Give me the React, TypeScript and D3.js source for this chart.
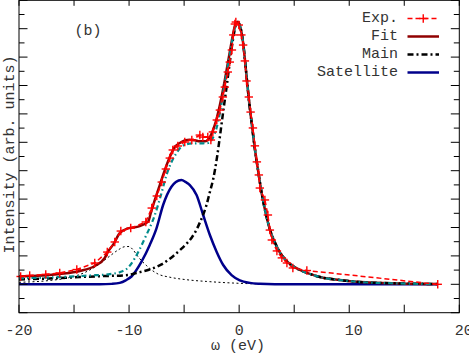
import React from 'react';
import * as d3 from 'd3';

const W = 469;
const H = 353;

// axis setup
const xDomain: [number, number] = [-20, 20];
const yDomain: [number, number] = [-2, 20];
const xTickValues = [-20, -15, -10, -5, 0, 5, 10, 15, 20];
const xTickLabels = [-20, -10, 0, 10, 20];
const yTickValues = [-2, -1, 0, 1, 2, 3, 4, 5, 6, 7, 8, 9, 10, 11, 12, 13, 14, 15, 16, 17, 18, 19, 20];

// experimental points (omega in eV, intensity arb. units)
const expData: [number, number][] = [
  [-19.85, 0.55], [-19.03, 0.62], [-17.57, 0.7], [-16.3, 0.8], [-14.75, 1.04], [-13.12, 1.5],
  [-11.98, 2.27], [-11.3, 2.98], [-10.75, 3.75], [-9.85, 3.96], [-8.48, 4.39], [-7.94, 5.37],
  [-7.48, 6.22], [-7.03, 7.2], [-6.66, 8.12], [-6.3, 8.89], [-6.03, 9.46], [-5.57, 9.74],
  [-4.94, 10.02], [-4.3, 10.16], [-3.57, 10.51], [-3.3, 10.37], [-2.85, 10.37], [-2.57, 10.16],
  [-2.39, 10.73], [-2.03, 11.57], [-1.75, 12.27], [-1.48, 13.19], [-1.3, 13.89], [-1.03, 14.95],
  [-0.85, 15.65], [-0.66, 16.5], [-0.53, 17.56], [-0.39, 18.33], [-0.3, 18.47], [-0.03, 18.26],
  [0.2, 17.56], [0.36, 16.85], [0.52, 15.73], [0.67, 14.32], [0.88, 13.19], [1.04, 12.13],
  [1.25, 11.01], [1.43, 9.75], [1.61, 8.62], [1.79, 7.7], [1.88, 6.78], [2.34, 5.94],
  [2.61, 4.88], [2.79, 3.82], [2.97, 3.12], [3.43, 2.35], [3.88, 1.86], [4.34, 1.5],
  [4.88, 1.15], [6.15, 0.97], [18.04, 0.0],
];

// right flank shared by Fit, Main and Main+Satellite (they coincide there)
const peakRightTail: [number, number][] = [
  [-0.12, 18.47], [0.06, 18.23], [0.34, 17.13], [0.61, 15.15], [0.88, 13.04], [1.15, 11.28],
  [1.43, 9.53], [1.7, 8.12], [2.06, 6.36], [2.43, 4.95], [2.79, 3.86], [3.25, 2.94],
  [3.7, 2.24], [4.15, 1.78], [4.61, 1.43], [5.52, 1.01], [6.43, 0.73], [7.34, 0.51],
  [9.15, 0.3], [10.97, 0.16], [14.61, 0.06], [18.07, 0.02],
];

const fitLeft: [number, number][] = [
  [-20.0, 0.55], [-16.3, 0.73], [-14.48, 0.94], [-13.12, 1.29], [-12.21, 1.85], [-11.91, 2.3],
  [-11.4, 2.85], [-10.85, 3.6], [-10.09, 3.94], [-9.18, 4.06], [-8.27, 4.41], [-8.0, 5.1],
  [-7.66, 5.94], [-7.21, 6.99], [-6.75, 8.05], [-6.3, 8.96], [-5.85, 9.67], [-5.39, 9.95],
  [-4.94, 10.13], [-4.48, 10.18], [-4.03, 10.14], [-3.57, 10.07], [-3.12, 10.07], [-2.66, 10.37],
  [-2.21, 11.22], [-1.75, 12.63], [-1.3, 14.39], [-0.85, 16.36], [-0.57, 17.56], [-0.3, 18.4],
];

const mainLeft: [number, number][] = [
  [-20.0, 0.34], [-17.21, 0.41], [-14.48, 0.51], [-12.66, 0.57], [-10.12, 0.65], [-9.33, 0.8],
  [-8.27, 1.01], [-7.05, 1.4], [-6.0, 1.98], [-5.39, 2.4], [-4.85, 2.8], [-4.3, 3.3],
  [-3.87, 3.85], [-3.57, 4.35], [-3.27, 4.9], [-3.0, 5.5], [-2.66, 6.5], [-2.36, 7.4],
  [-2.0, 9.0], [-1.75, 10.4], [-1.39, 12.5], [-1.12, 14.03], [-0.85, 15.65], [-0.57, 17.2],
  [-0.3, 18.26],
];

const mainPlusSatLeft: [number, number][] = [
  [-20.0, 0.42], [-16.3, 0.51], [-13.57, 0.62], [-11.75, 0.72], [-10.85, 0.85], [-10.12, 1.15],
  [-9.48, 1.83], [-8.57, 3.24], [-7.66, 4.88], [-7.1, 6.3], [-6.6, 7.7], [-5.69, 9.25],
  [-5.09, 9.77], [-4.18, 9.93], [-3.27, 9.93], [-2.82, 9.95], [-2.51, 10.16], [-2.05, 11.01],
  [-1.75, 12.06], [-1.3, 14.18], [-0.85, 16.15], [-0.48, 17.77], [-0.21, 18.44],
];

const satelliteData: [number, number][] = [
  [-20.0, 0], [-12.66, 0], [-11.57, 0.03], [-10.85, 0.1], [-10.3, 0.28], [-9.78, 0.55],
  [-8.87, 1.59], [-8.12, 2.77], [-7.51, 3.94], [-6.9, 5.6], [-6.15, 6.87], [-5.75, 7.2],
  [-5.24, 7.35], [-4.85, 7.2], [-4.48, 6.99], [-3.87, 6.29], [-3.27, 4.88], [-2.66, 3.47],
  [-2.05, 2.3], [-1.45, 1.36], [-0.69, 0.65], [0.06, 0.28], [0.97, 0.1], [1.88, 0.04],
  [3.25, 0.01], [18.07, 0],
];

const secondSatData: [number, number][] = [
  [-20.0, 0.14], [-17.21, 0.27], [-15.39, 0.48], [-14.03, 0.83], [-12.82, 1.36], [-11.75, 1.99],
  [-11.03, 2.4], [-10.39, 2.65], [-10.0, 2.66], [-9.66, 2.45], [-9.18, 1.94], [-8.39, 1.3],
  [-7.85, 0.95], [-7.36, 0.72], [-6.3, 0.5], [-4.75, 0.32], [-2.94, 0.2], [-0.57, 0.09],
  [2.79, 0.02], [18.07, 0],
];

const legendLabels = ['Exp.', 'Fit', 'Main', 'Satellite'];

const FONT = "'Liberation Mono', 'DejaVu Sans Mono', monospace";
const TEXT_COLOR = '#333';

const C_EXP = '#ff0000';
const C_FIT = '#900000';
const C_MAIN = '#000000';
const C_SAT = '#00008b';
const C_TEAL = '#008b8b';

export default function App() {
  const x = d3.scaleLinear().domain(xDomain).range([19, 459.3]);
  const y = d3.scaleLinear().domain(yDomain).range([312.7, 0.3]);

  const smooth = d3.line<[number, number]>().x(d => x(d[0])).y(d => y(d[1])).curve(d3.curveMonotoneX);
  const straight = d3.line<[number, number]>().x(d => x(d[0])).y(d => y(d[1]));

  const fitData = [...fitLeft, ...peakRightTail];
  const mainData = [...mainLeft, ...peakRightTail];
  const tealData = [...mainPlusSatLeft, ...peakRightTail];

  const [x0, x1] = x.range();
  const [yb, yt] = y.range();

  const plus = (cx: number, cy: number, key: string | number, s = 4.2) => (
    <g key={key} stroke={C_EXP} strokeWidth={1.4}>
      <line x1={cx - s} x2={cx + s} y1={cy} y2={cy} />
      <line x1={cx} x2={cx} y1={cy - s} y2={cy + s} />
    </g>
  );

  const legendX1 = 407.5;
  const legendX2 = 439;
  const legendTextX = 398;
  const legendRowY = (i: number) => 18.5 + i * 18;

  const legendStyles = [
    { stroke: C_EXP, width: 1.5, dash: '5,3' },
    { stroke: C_FIT, width: 2.5, dash: undefined },
    { stroke: C_MAIN, width: 2.5, dash: '6,3,2,3' },
    { stroke: C_SAT, width: 2.5, dash: undefined },
  ];

  return (
    <svg width={W} height={H} style={{ position: 'absolute', left: 0, top: 0, background: '#fff' }}
      fontFamily={FONT}>
      <rect x={0} y={0} width={W} height={H} fill="#fff" />
      {/* curves */}
      <path d={smooth(secondSatData) || ''} fill="none" stroke="#000" strokeWidth={1} strokeDasharray="2,2.5" />
      <path d={smooth(satelliteData) || ''} fill="none" stroke={C_SAT} strokeWidth={2.5} />
      <path d={smooth(fitData) || ''} fill="none" stroke={C_FIT} strokeWidth={2.5} />
      <path d={smooth(mainData) || ''} fill="none" stroke={C_MAIN} strokeWidth={2.5} strokeDasharray="6,3,2,3" />
      <path d={smooth(tealData) || ''} fill="none" stroke={C_TEAL} strokeWidth={2.2} strokeDasharray="5,3,1.5,3" />
      <path d={straight(expData) || ''} fill="none" stroke={C_EXP} strokeWidth={1.5} strokeDasharray="5,3" />
      {expData.map((d, i) => plus(x(d[0]), y(d[1]), i))}

      {/* frame */}
      <rect x={x0} y={yt} width={x1 - x0} height={yb - yt} fill="none" stroke="#000" strokeWidth={1} />
      {/* x ticks */}
      {xTickValues.map(v => (
        <g key={'xt' + v} stroke="#000" strokeWidth={1}>
          <line x1={x(v)} x2={x(v)} y1={yb} y2={yb - 8} />
          <line x1={x(v)} x2={x(v)} y1={yt} y2={yt + 5.5} />
        </g>
      ))}
      {/* y ticks */}
      {yTickValues.map(v => {
        const len = v % 2 === 0 ? 8.5 : 5.5;
        return (
          <g key={'yt' + v} stroke="#000" strokeWidth={1}>
            <line x1={x0} x2={x0 + len} y1={y(v)} y2={y(v)} />
            <line x1={x1} x2={x1 - len} y1={y(v)} y2={y(v)} />
          </g>
        );
      })}
      {/* x tick labels */}
      {xTickLabels.map(v => (
        <text key={'xl' + v} x={x(v)} y={331.5} textAnchor="middle" dominantBaseline="central"
          fontSize={15} fill={TEXT_COLOR}>
          {(v > 0 ? '\u00a0' : '') + String(v)}
        </text>
      ))}
      {/* axis labels */}
      <text x={238} y={346} textAnchor="middle" dominantBaseline="central" fontSize={15} fill={TEXT_COLOR}>
        ω (eV)
      </text>
      <text transform="translate(10,154.5) rotate(-90)" textAnchor="middle" dominantBaseline="central"
        fontSize={15} fill={TEXT_COLOR}>
        Intensity (arb. units)
      </text>
      <text x={74.5} y={31} dominantBaseline="central" fontSize={15} fill={TEXT_COLOR}>(b)</text>

      {/* legend */}
      {legendLabels.map((lab, i) => {
        const ry = legendRowY(i);
        const st = legendStyles[i];
        return (
          <g key={'lg' + lab}>
            <text x={legendTextX} y={ry} textAnchor="end" dominantBaseline="central" fontSize={15} fill={TEXT_COLOR}>
              {lab}
            </text>
            <line x1={legendX1} x2={legendX2} y1={ry} y2={ry} stroke={st.stroke} strokeWidth={st.width}
              strokeDasharray={st.dash} />
            {i === 0 ? plus((legendX1 + legendX2) / 2, ry, 'lgp') : null}
          </g>
        );
      })}
    </svg>
  );
}
